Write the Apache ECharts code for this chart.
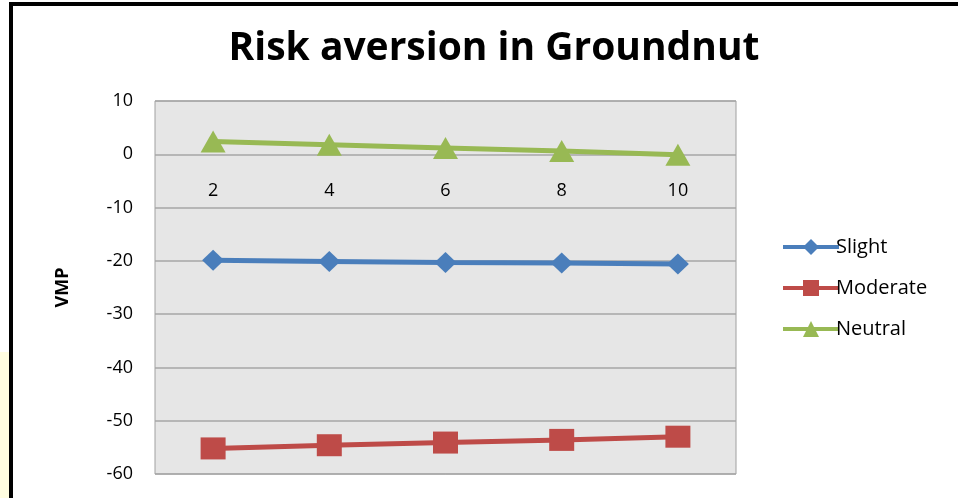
<!doctype html>
<html>
<head>
<meta charset="UTF-8">
<title>Risk aversion in Groundnut</title>
<script src="https://cdn.jsdelivr.net/npm/echarts@6/dist/echarts.min.js"></script>
<style>
  html, body { margin: 0; padding: 0; background: #fff; }
  #main { width: 958px; height: 498px; }
</style>
</head>
<body>
<div id="main"></div>
<script>
var categories = ['2', '4', '6', '8', '10'];
var slight = [-19.9, -20.1, -20.3, -20.4, -20.6];
var moderate = [-55.2, -54.6, -54.1, -53.6, -53.0];
var neutral = [2.4, 1.8, 1.2, 0.6, -0.1];

var font = '"Open Sans", sans-serif';

function line(name, data, color, symbol, size) {
    return {
        name: name,
        type: 'line',
        data: data,
        symbol: symbol,
        symbolSize: size,
        showSymbol: true,
        lineStyle: { color: color, width: 5 },
        itemStyle: { color: color, borderWidth: 0 },
        emphasis: { disabled: true }
    };
}

var chart = echarts.init(document.getElementById('main'));
chart.setOption({
    animation: false,
    backgroundColor: '#fff',
    title: {
        text: 'Risk aversion in Groundnut',
        left: 489,
        top: 24,
        textAlign: 'center',
        textStyle: { fontFamily: font, fontSize: 39, fontWeight: 'bold', color: '#000' }
    },
    legend: {
        orient: 'vertical',
        left: 776,
        top: 232,
        itemWidth: 56,
        itemHeight: 20,
        itemGap: 21,
        itemStyle: { borderWidth: 0 },
        lineStyle: { width: 4 },
        textStyle: { fontFamily: font, fontSize: 20, color: '#000', padding: [0, 0, 0, -8] },
        data: ['Slight', 'Moderate', 'Neutral']
    },
    grid: {
        left: 155, top: 101, right: 222, bottom: 24,
        outerBoundsMode: 'none',
        containLabel: false,
        show: true,
        backgroundColor: '#e6e6e6',
        borderColor: '#a0a0a0',
        borderWidth: 1
    },
    xAxis: {
        type: 'category',
        data: categories,
        boundaryGap: true,
        position: 'bottom',
        offset: -320,
        axisLine: { show: false, onZero: false },
        axisTick: { show: false },
        axisLabel: { margin: 28, fontFamily: font, fontSize: 18, color: '#000' }
    },
    yAxis: {
        type: 'value',
        min: -60,
        max: 10,
        interval: 10,
        name: 'VMP',
        nameLocation: 'middle',
        nameGap: 83,
        nameTextStyle: { fontFamily: font, fontSize: 18, fontWeight: 'bold', color: '#000' },
        axisLine: { show: false },
        axisTick: { show: false },
        axisLabel: { margin: 22, fontFamily: font, fontSize: 18, color: '#000' },
        splitLine: { lineStyle: { color: '#a6a6a6', width: 1.5 } }
    },
    series: [
        line('Slight', slight, '#4a7ebb', 'diamond', [22, 21]),
        line('Moderate', moderate, '#be4b48', 'rect', [25, 22]),
        line('Neutral', neutral, '#98b954', 'triangle', [25, 22])
    ],
    graphic: [
        { type: 'rect', shape: { x: 0, y: 352, width: 9, height: 146 }, style: { fill: '#fffde0' }, silent: true },
        { type: 'rect', shape: { x: 9, y: 2, width: 4, height: 496 }, style: { fill: '#000' }, silent: true },
        { type: 'rect', shape: { x: 9, y: 2, width: 949, height: 4 }, style: { fill: '#000' }, silent: true }
    ]
});
</script>
</body>
</html>
